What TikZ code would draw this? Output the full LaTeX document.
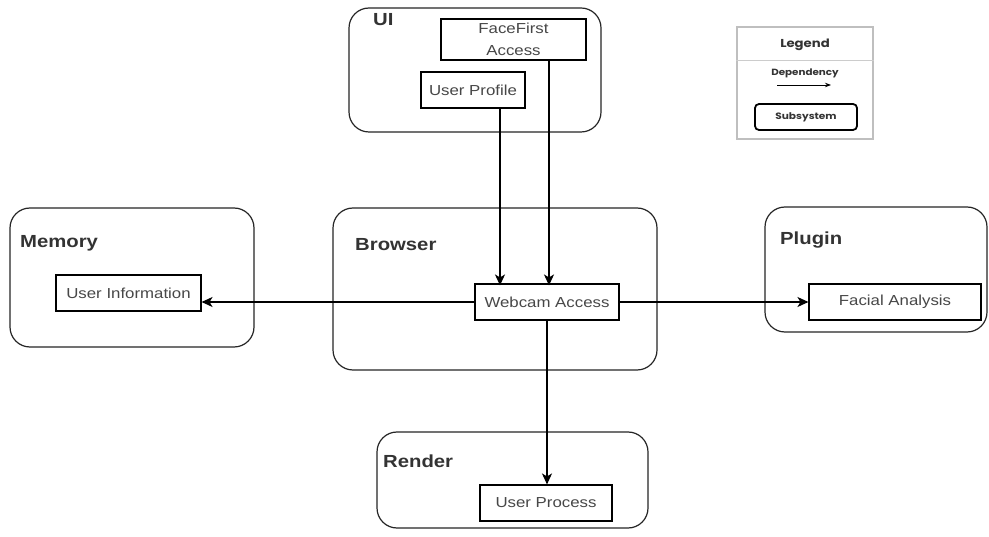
\documentclass[tikz,border=0pt]{standalone}
\usepackage{fontspec}
\setmainfont{Liberation Sans}[FakeStretch=1.16]
\newfontfamily\legfont{Poppins}[FakeStretch=1.15]
\usetikzlibrary{arrows.meta}
\begin{document}
\begin{tikzpicture}[x=1pt,y=-1pt,
  container/.style={draw=black!85,line width=1.2pt,rounded corners=20pt,inner sep=0pt},
  comp/.style={draw=black,line width=1.1pt,inner sep=0pt,font=\fontsize{14.5}{22}\selectfont,text=black!72,align=center},
  ttl/.style={anchor=west,inner sep=0pt,font=\fontsize{17.5}{20}\selectfont\bfseries,text=black!80},
  dep/.style={draw=black,line width=1.4pt,-{Stealth[length=11pt,width=10pt,inset=3pt]}},
  legtxt/.style={inner sep=0pt,text=black!80}]
\useasboundingbox[fill=white] (0,0) rectangle (989,537);
% containers
\node[container,minimum width=252pt,minimum height=124pt] (ui) at (475,70) {};
\node[container,minimum width=324pt,minimum height=162pt] (browser) at (495,289) {};
\node[container,minimum width=244pt,minimum height=139pt] (memory) at (132,277.5) {};
\node[container,minimum width=222pt,minimum height=125pt] (plugin) at (876,269.5) {};
\node[container,minimum width=271pt,minimum height=96pt] (render) at (512.5,480) {};
% titles
\node[ttl] (tui) at (373,20) {UI};
\node[ttl] (tmem) at (20,243) {Memory};
\node[ttl] (tbro) at (355,245) {Browser};
\node[ttl] (tplu) at (780,240) {Plugin};
\node[ttl] (tren) at (383,461) {Render};
% components
\node[comp,minimum width=145pt,minimum height=41pt] (ffa) at (513.5,39.5) {FaceFirst\\Access};
\node[comp,minimum width=104pt,minimum height=36pt] (up) at (473,90) {User Profile};
\node[comp,minimum width=144pt,minimum height=36pt] (wa) at (547,302) {Webcam Access};
\node[comp,minimum width=145pt,minimum height=36pt] (ui2) at (128.5,293) {User Information};
\node[comp,minimum width=172pt,minimum height=36pt] (fa) at (895,302) {Facial Analysis};
\node[comp,minimum width=132pt,minimum height=36pt] (upr) at (546,503) {User Process};
% connectors
\coordinate (c1) at (500,0);
\coordinate (c2) at (549,0);
\draw[dep] (c1 |- up.south) -- ([yshift=-2pt]c1 |- wa.north);
\draw[dep] (c2 |- ffa.south) -- ([yshift=-2pt]c2 |- wa.north);
\draw[dep] (wa.west) -- (wa.west -| ui2.east);
\draw[dep] (wa.east) -- (fa.west);
\draw[dep] (wa.south) -- (wa.south |- upr.north);
% legend
\node[draw=black!25,line width=1.8pt,minimum width=136pt,minimum height=112pt,inner sep=0pt] (leg) at (805,83) {};
\node[legtxt,font=\legfont\bfseries\fontsize{11.5}{13}\selectfont] (legt) at (805,45) {Legend};
\draw[black!20,line width=1pt] (leg.west |- 0,61) coordinate (ls1) -- (leg.east |- ls1);
\node[legtxt,font=\legfont\bfseries\fontsize{9}{10}\selectfont] (legd) at (805,73) {Dependency};
\coordinate (la1) at (777,85);
\coordinate (la2) at (831,85);
\draw[black,line width=0.9pt,-{Stealth[length=6pt,width=4.5pt]}] (la1) -- (la2);
\node[draw=black,line width=1.8pt,rounded corners=4pt,minimum width=102pt,minimum height=26pt,inner sep=0pt,legtxt,font=\legfont\bfseries\fontsize{9.2}{10}\selectfont] (legs) at (806,117) {Subsystem};
\end{tikzpicture}
\end{document}
